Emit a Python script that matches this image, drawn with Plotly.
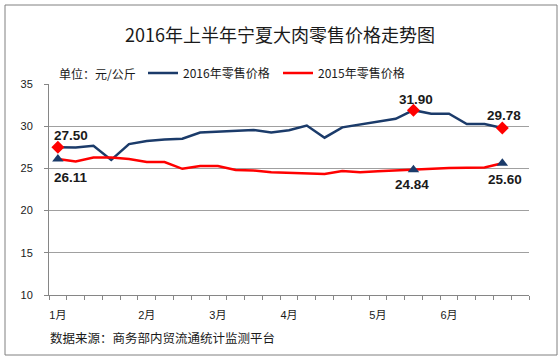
import plotly.graph_objects as go

# ---- data ----
n_cats = 27
month_pos = [0, 5, 9, 13, 18, 22]
month_labels = ["1月", "2月", "3月", "4月", "5月", "6月"]

price_2016 = [27.50, 27.48, 27.68, 26.00, 27.88, 28.25, 28.42, 28.52, 29.26, 29.34,
              29.46, 29.56, 29.26, 29.52, 30.08, 28.64, 29.86, 30.20, 30.62, 30.88,
              31.90, 31.47, 31.47, 30.26, 30.25, 29.78]
price_2015 = [26.11, 25.82, 26.28, 26.28, 26.12, 25.76, 25.76, 24.95, 25.28, 25.28,
              24.80, 24.76, 24.55, 24.50, 24.45, 24.35, 24.70, 24.55, 24.65, 24.75,
              24.84, 25.00, 25.05, 25.08, 25.10, 25.60]
highlight_idx = [0, 20, 25]

name_2016 = "2016年零售价格"
name_2015 = "2015年零售价格"
title_text = "2016年上半年宁夏大肉零售价格走势图"
unit_text = "单位：元/公斤"
source_text = "数据来源：商务部内贸流通统计监测平台"

# ---- styling ----
BLUE = "#1B3B6A"
RED = "#FF0000"
GRID = "#A0A0A0"
FONT = "Liberation Sans, Arial, Noto Sans CJK SC, sans-serif"
CJK = "Noto Sans CJK SC, Liberation Sans, sans-serif"

W, H = 560, 360
L, R, T, B = 49, 31, 84, 65
pw, ph = W - L - R, H - T - B

def px_x(p):
    return (p - L) / pw

def px_y(p):
    return (H - B - p) / ph

x_all = list(range(len(price_2016)))

fig = go.Figure()
fig.add_trace(go.Scatter(x=x_all, y=price_2016, mode="lines", name=name_2016,
                         line=dict(color=BLUE, width=2.5)))
fig.add_trace(go.Scatter(x=x_all, y=price_2015, mode="lines", name=name_2015,
                         line=dict(color=RED, width=2.5)))
fig.add_trace(go.Scatter(x=highlight_idx, y=[price_2016[i] for i in highlight_idx],
                         mode="markers", showlegend=False,
                         marker=dict(symbol="diamond", color=RED, size=10)))
fig.add_trace(go.Scatter(x=highlight_idx, y=[price_2015[i] for i in highlight_idx],
                         mode="markers", showlegend=False,
                         marker=dict(symbol="triangle-up", color=BLUE, size=10)))

# data labels
shifts_2016 = {0: (13, 12), 20: (3, 11), 25: (2, 13)}
shifts_2015 = {0: (13, -18), 20: (-1, -15), 25: (3, -16)}
for i in highlight_idx:
    for series, shifts in ((price_2016, shifts_2016), (price_2015, shifts_2015)):
        dx, dy = shifts[i]
        fig.add_annotation(x=i, y=series[i], xref="x", yref="y",
                           text=f"<b>{series[i]:.2f}</b>", showarrow=False,
                           xshift=dx, yshift=dy,
                           font=dict(family=FONT, size=13.5, color="#1a1a1a"))

# unit label
fig.add_annotation(x=px_x(57), y=px_y(73), xref="paper", yref="paper",
                   text=unit_text, showarrow=False, xanchor="left", yanchor="middle",
                   font=dict(family=CJK, size=12, color="#1a1a1a"))
# source
fig.add_annotation(x=px_x(48), y=px_y(337), xref="paper", yref="paper",
                   text=source_text, showarrow=False, xanchor="left", yanchor="middle",
                   font=dict(family=CJK, size=12.5, color="#1a1a1a"))

# outer frame
fig.add_shape(type="rect", xref="paper", yref="paper",
              x0=px_x(5), x1=px_x(557), y0=px_y(355), y1=px_y(5),
              line=dict(color="#808080", width=1), layer="above")

fig.update_layout(
    width=W, height=H,
    margin=dict(l=L, r=R, t=T, b=B, autoexpand=False),
    paper_bgcolor="white", plot_bgcolor="white",
    title=dict(text=title_text, x=0.5, xanchor="center", y=1 - 36 / H, yanchor="middle",
               xref="container", yref="container",
               font=dict(family=CJK, size=18, color="#1a1a1a")),
    legend=dict(orientation="h", x=px_x(143), y=px_y(73), xanchor="left", yanchor="middle",
                entrywidth=90, entrywidthmode="pixels",
                font=dict(family=CJK, size=12, color="#1a1a1a"),
                bgcolor="rgba(0,0,0,0)", itemclick=False),
    showlegend=True,
)

fig.update_xaxes(range=[-0.5, n_cats - 0.5], tickmode="array", tickvals=month_pos,
                 ticktext=month_labels, ticks="", showgrid=False,
                 showline=True, linecolor="#868686", linewidth=1, ticklabelstandoff=10,
                 tickfont=dict(family=FONT, size=11, color="#1a1a1a"),
                 minor=dict(tick0=-0.5, dtick=1, ticks="outside", ticklen=4,
                            tickcolor="#868686", showgrid=False),
                 zeroline=False, fixedrange=True)
fig.update_yaxes(range=[10, 35], dtick=5, tick0=10, showgrid=True, gridcolor=GRID,
                 gridwidth=1, showline=True, linecolor="#868686", linewidth=1,
                 ticks="outside", ticklen=4, tickcolor="#868686", ticklabelstandoff=9,
                 tickfont=dict(family=FONT, size=11, color="#1a1a1a"),
                 zeroline=False, fixedrange=True)

fig.write_html("out.html", config={"displayModeBar": False},
               post_script="document.body.style.margin='0';document.body.style.overflow='hidden';")
